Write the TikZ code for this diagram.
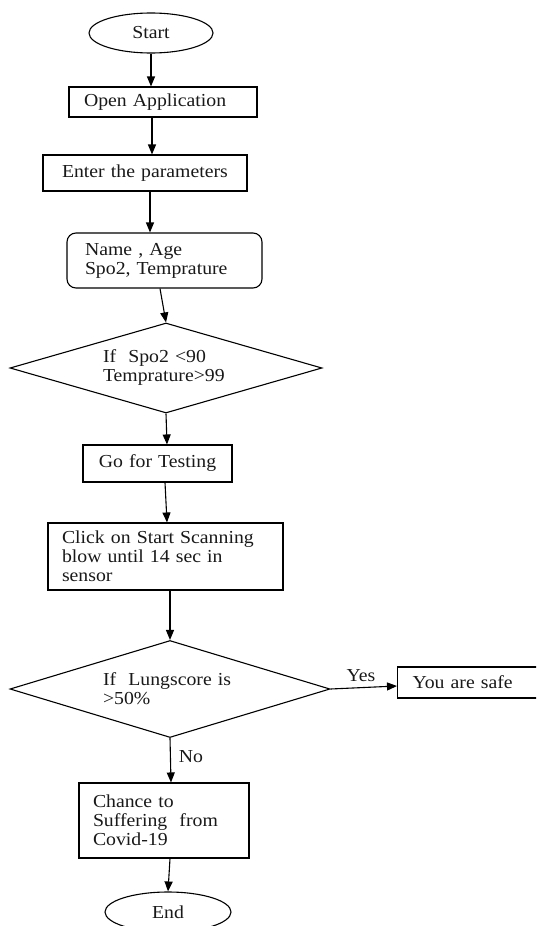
\documentclass[tikz,border=0pt]{standalone}
\usepackage{fontspec}
\setmainfont{Liberation Serif}[FakeStretch=1.08]
\usetikzlibrary{shapes.geometric,arrows.meta}
\begin{document}
\begin{tikzpicture}[x=1pt,y=-1pt, line width=1.1pt,
  every node/.style={font=\fontsize{18.3}{19}\selectfont, text=black!90},
  term/.style={draw, ellipse, inner sep=0pt},
  procbox/.style={draw, rectangle, inner ysep=0pt, align=left},
  decision/.style={draw, diamond, aspect=3.5, inner sep=0pt, align=left},
  flow/.style={-{Triangle[length=10pt,width=8pt]}},
  lbl/.style={inner sep=0pt}]
\clip (0,0) rectangle (536,926);
\fill[white] (0,0) rectangle (536,926);
\node[term, minimum width=124pt, minimum height=40pt] (start) at (151,33) {Start};
\node[procbox, minimum width=188pt, minimum height=30pt, inner xsep=15pt, text width=158pt] (open) at (163,102) {Open~Application};
\node[procbox, minimum width=204pt, minimum height=36pt, inner xsep=19pt, text width=166pt] (enter) at (145,173) {Enter~the~parameters};
\node[procbox, rounded corners=9pt, minimum width=195pt, minimum height=55pt, inner xsep=18pt, text width=159pt] (name) at (164.5,260.5) {Name~,~Age\\Spo2,~Temprature};
\node[decision, minimum width=312pt, minimum height=90pt, text width=126pt] (d1) at (166,368) {If\ \ Spo2~<90\\Temprature>99};
\node[procbox, minimum width=149pt, minimum height=37pt, inner xsep=14pt, text width=121pt, align=center] (go) at (157.5,463.5) {Go~for~Testing};
\node[procbox, minimum width=235pt, minimum height=67pt, inner xsep=14pt, text width=207pt] (click) at (165.5,556.5) {Click~on~Start~Scanning\\blow~until~14~sec~in\\sensor};
\node[decision, minimum width=320pt, minimum height=97pt, text width=134pt] (d2) at (170,689) {If\ \ Lungscore~is\\>50\%};
\node[procbox, minimum width=150pt, minimum height=31pt, inner xsep=15pt, text width=120pt, anchor=west] (safe) at (397,682.5) {You~are~safe};
\node[procbox, minimum width=170pt, minimum height=75pt, inner xsep=14pt, text width=142pt] (chance) at (164,820.5) {Chance~to\\Suffering\ \ from\\Covid-19};
\node[term, minimum width=126pt, minimum height=40pt] (end) at (168,912) {End};
\draw[flow] (start.south) -- (start.south |- open.north);
\draw[flow] ([xshift=-11pt]open.south) -- ([xshift=7pt]enter.north);
\draw[flow] ([xshift=5pt]enter.south) -- ([xshift=-14.5pt]name.north);
\draw[flow] ([xshift=-4.5pt]name.south) -- (d1.north);
\draw[flow] (d1.south) -- ([xshift=9.5pt]go.north);
\draw[flow] ([xshift=7.5pt]go.south) -- ([xshift=1.5pt]click.north);
\draw[flow] ([xshift=4.5pt]click.south) -- (d2.north);
\draw[flow] (d2.east) -- ([yshift=-3.5pt]safe.west);
\draw[flow] (d2.south) -- ([xshift=7pt]chance.north);
\draw[flow] ([xshift=6pt]chance.south) -- (end.north);
\node[lbl] (yes) at (361,676) {Yes};
\node[lbl] (no) at (191,757) {No};
\end{tikzpicture}
\end{document}
